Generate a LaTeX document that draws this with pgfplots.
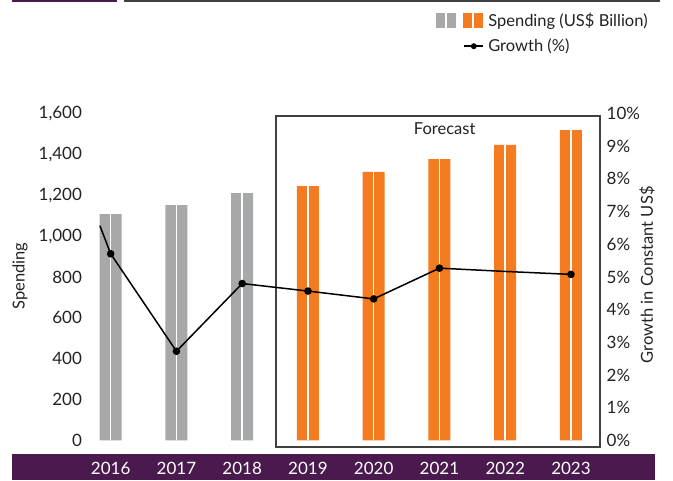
\documentclass[border=0pt]{standalone}
\usepackage{fontspec}
\setmainfont{Lato}
\usepackage{pgfplots}
\pgfplotsset{compat=1.18}
\definecolor{barGray}{HTML}{A7A8AA}
\definecolor{barOrange}{HTML}{F47B20}
\definecolor{band}{HTML}{4A1A4E}
\definecolor{boxline}{HTML}{404040}
\definecolor{txt}{HTML}{222222}
\begin{document}
\begin{tikzpicture}
\path[use as bounding box] (0pt,0pt) rectangle (673pt,480pt);
\fill[band] (12pt,0pt) rectangle (655pt,26pt);
\fill[band] (12pt,477.5pt) rectangle (117pt,480pt);
\fill[boxline] (124pt,477.5pt) rectangle (660pt,480pt);
\node[rotate=90, text=txt, font=\fontsize{16.5}{19}\selectfont] at (20pt,204pt) {Spending};
\node[rotate=90, text=txt, font=\fontsize{16.5}{19}\selectfont] at (647pt,205pt) {Growth in Constant US\$};
\begin{axis}[
  at={(85.5pt,39.5pt)}, anchor=south west,
  scale only axis, width=517.7pt, height=327pt,
  xmin=-0.383, xmax=7.49, ymin=0, ymax=1600,
  clip=false,
  axis line style={draw=none},
  tick style={draw=none},
  xtick={0,1,2,3,4,5,6,7},
  xticklabels={2016,2017,2018,2019,2020,2021,2022,2023},
  xticklabel style={text=white, anchor=center, yshift=-27.5pt},
  ytick={0,200,...,1600},
  /pgf/number format/assume math mode=true,
  /pgf/number format/1000 sep={,},
  ticklabel style={font=\fontsize{17}{20}\selectfont, text=txt},
]
\addplot[ybar, bar width=22pt, bar shift=0pt, fill=barGray, draw=none] coordinates {(0,1108) (1,1152) (2,1211)};
\addplot[ybar, bar width=22pt, bar shift=0pt, fill=barOrange, draw=none] coordinates {(3,1245) (4,1314) (5,1377) (6,1446) (7,1519)};
\addplot[ycomb, white, line width=1.5pt, mark=none] coordinates {(0,1108) (1,1152) (2,1211) (3,1245) (4,1314) (5,1377) (6,1446) (7,1519)};
\draw[boxline, line width=1.3pt] (axis cs:2.514,-31.8) rectangle (axis cs:7.441,1588);
\node[text=txt, font=\fontsize{16.5}{19}\selectfont] at (axis cs:5.08,1524) {Forecast};
\end{axis}
\begin{axis}[
  at={(85.5pt,39.5pt)}, anchor=south west,
  scale only axis, width=517.7pt, height=327pt,
  xmin=-0.383, xmax=7.49, ymin=0, ymax=10,
  clip=false,
  axis x line=none,
  axis y line*=right,
  axis line style={draw=none},
  tick style={draw=none},
  ytick={0,1,...,10},
  yticklabel={\pgfmathprintnumber{\tick}\%},
  /pgf/number format/assume math mode=true,
  ticklabel style={font=\fontsize{17}{20}\selectfont, text=txt},
  legend style={at={(axis description cs:0.6714,1.320)}, anchor=north west, draw=none, fill=none,
    font=\fontsize{16.5}{19}\selectfont, text=txt, row sep=7pt},
  legend cell align=left,
]
\addlegendimage{legend image code/.code={
 \path[draw=none] (0pt,0pt) -- (50pt,0pt);
 \fill[barGray, draw=none] (0pt,-7.3pt) rectangle (9pt,7.3pt);
 \fill[barGray, draw=none] (10.5pt,-7.3pt) rectangle (19.5pt,7.3pt);
 \fill[barOrange, draw=none] (27pt,-7.3pt) rectangle (36pt,7.3pt);
 \fill[barOrange, draw=none] (37.5pt,-7.3pt) rectangle (46.5pt,7.3pt);
}}
\addlegendentry{Spending (US\$ Billion)}
\addplot[black, line width=1.5pt, mark=*, mark size=3pt, mark indices={2,3,4,5,6,7,9},
  legend image code/.code={
   \path[draw=none, fill=none] (0pt,0pt) -- (50pt,0pt);
   \draw[black, line width=1.5pt] (28pt,0pt) -- (47pt,0pt);
   \fill[black, draw=none] (37.5pt,0pt) circle (3pt);
  }] coordinates {(-0.164,6.57) (0,5.71) (1,2.73) (2,4.80) (3,4.57) (4,4.33) (5,5.27) (6,5.17) (7,5.08)};
\addlegendentry{Growth (\%)}
\end{axis}
\end{tikzpicture}
\end{document}
